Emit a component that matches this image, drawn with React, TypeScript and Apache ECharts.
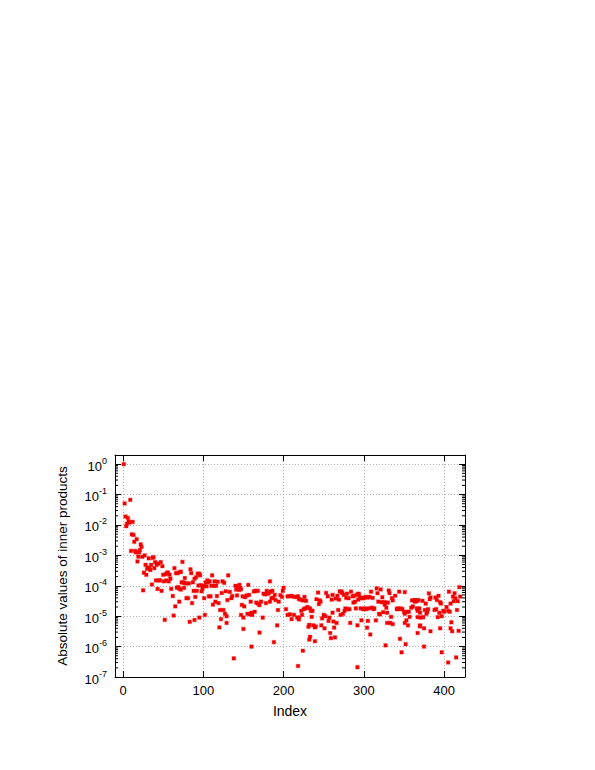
import { useEffect, useRef } from 'react';
import * as echarts from 'echarts';

const xTicks = [0, 100, 200, 300, 400];
const yTicks = [1e-7, 1e-6, 1e-5, 1e-4, 1e-3, 1e-2, 1e-1, 1];
const yMinorTicks = [
  2e-7, 3e-7, 4e-7, 5e-7, 6e-7, 7e-7, 8e-7, 9e-7,
  2e-6, 3e-6, 4e-6, 5e-6, 6e-6, 7e-6, 8e-6, 9e-6,
  2e-5, 3e-5, 4e-5, 5e-5, 6e-5, 7e-5, 8e-5, 9e-5,
  2e-4, 3e-4, 4e-4, 5e-4, 6e-4, 7e-4, 8e-4, 9e-4,
  2e-3, 3e-3, 4e-3, 5e-3, 6e-3, 7e-3, 8e-3, 9e-3,
  2e-2, 3e-2, 4e-2, 5e-2, 6e-2, 7e-2, 8e-2, 9e-2,
  2e-1, 3e-1, 4e-1, 5e-1, 6e-1, 7e-1, 8e-1, 9e-1,
];

// [index, |inner product|]
const segmentA: [number, number][] = [
  [1, 1.0], [2, 0.051], [9, 0.067], [3, 0.019], [6, 0.017], [7, 0.013], [4, 0.0091], [5, 0.011],
  [8, 0.012], [12, 0.0126], [11, 0.0049], [13, 0.0047], [17, 0.0034], [14, 0.0028], [22, 0.0023],
  [23, 0.0019], [10, 0.0014], [15, 0.0014], [16, 0.00126], [20, 0.00126], [21, 0.0015], [19, 0.00091],
  [27, 0.001], [18, 0.00063], [32, 0.0008], [37, 0.00083], [38, 0.00087], [28, 0.00049], [30, 0.00036],
  [31, 0.0004], [33, 0.00038], [35, 0.00049], [34, 0.00033], [39, 0.00038], [40, 0.0006], [42, 0.00049],
  [44, 0.00054], [47, 0.0006], [49, 0.00044], [26, 0.00027], [29, 0.00023], [53, 0.00024], [55, 0.00027],
  [56, 0.00027], [58, 0.00023], [50, 0.00023], [64, 0.00038], [66, 0.00026], [68, 0.00026], [36, 0.00011],
  [41, 0.00015], [45, 0.00015], [46, 0.00015], [51, 0.00014], [54, 0.00015], [59, 0.00017], [57, 0.00014],
  [43, 7.9e-5], [48, 6.8e-5], [60, 7.9e-5], [62, 4.6e-5], [67, 8.7e-5], [70, 3e-5], [65, 2.1e-5],
  [52, 7.6e-6], [63, 1.05e-5], [25, 7.1e-5], [24, 0.0009],
];

const segmentB: [number, number][] = [
  [74, 6.1e-4], [71, 2.8e-4], [72, 2.9e-4], [84, 3.5e-4], [85, 2.6e-4], [93, 2.5e-4], [95, 2.5e-4],
  [96, 2.2e-4], [91, 1.9e-4], [89, 1.7e-4], [77, 1.8e-4], [73, 1.3e-4], [75, 1.3e-4], [76, 1.25e-4],
  [78, 1.2e-4], [82, 1.2e-4], [87, 1.3e-4], [69, 9e-5], [70, 8e-5], [72, 7.5e-5], [76, 8.5e-5],
  [88, 6.8e-5], [94, 1.02e-4], [97, 1.05e-4], [100, 1.0e-4], [103, 1.3e-4], [105, 1.5e-4], [106, 1.3e-4],
  [108, 1.4e-4], [111, 2.2e-4], [114, 1.4e-4], [118, 1.35e-4], [124, 1.4e-4], [131, 2.2e-4], [126, 1.25e-4],
  [110, 1e-4], [113, 1e-4], [116, 1e-4], [104, 9.6e-5], [99, 8e-5], [98, 6.6e-5], [101, 3.9e-5],
  [92, 6.8e-5], [107, 4.5e-5], [109, 4.5e-5], [117, 4.6e-5], [123, 5.8e-5], [128, 6.6e-5], [133, 6.3e-5],
  [136, 4.6e-5], [135, 3.9e-5], [130, 3.4e-5], [140, 1e-4], [143, 8e-5], [141, 7.5e-5], [144, 9e-5],
  [115, 3e-5], [119, 2.7e-5], [112, 2.4e-5], [121, 1.6e-5], [125, 1.6e-5], [127, 1.2e-5], [129, 1e-5],
  [79, 3.9e-5], [81, 3.9e-5], [86, 2.7e-5], [90, 4.3e-5], [102, 1.1e-5], [95, 9e-6], [89, 7.5e-6],
  [83, 6.5e-6], [122, 8e-6], [129, 6e-6], [120, 4.3e-6], [138, 4.1e-7],
];

const segmentC: [number, number][] = [
  [145, 1.07e-4], [144, 9.5e-5], [146, 8.5e-5], [145, 7.3e-5], [147, 7.8e-5], [142, 4.8e-5],
  [156, 1.07e-4], [149, 4.5e-5], [152, 4.2e-5], [154, 4.8e-5], [157, 5e-5], [163, 6.5e-5], [165, 6.8e-5],
  [168, 6.8e-5], [183, 1.4e-4], [175, 5.5e-5], [177, 5.2e-5], [180, 5.5e-5], [182, 6e-5], [184, 6.4e-5],
  [186, 6.8e-5], [179, 6.8e-5], [181, 5.7e-5], [199, 6.8e-5], [200, 8.6e-5], [205, 4.5e-5], [208, 4.5e-5],
  [210, 4.7e-5], [213, 4.3e-5], [216, 4.3e-5], [219, 3.7e-5], [198, 4.3e-5], [189, 5e-5], [187, 4e-5],
  [148, 2.35e-5], [151, 2.1e-5], [159, 3e-5], [166, 2.8e-5], [168, 2.6e-5], [170, 2.3e-5],
  [158, 1.15e-5], [161, 1.1e-5], [160, 1.3e-5], [155, 1.2e-5], [147, 1.1e-5], [150, 9e-6], [164, 1.4e-5],
  [172, 3e-5], [174, 9e-6], [178, 2.7e-5], [183, 3e-5], [185, 3.9e-5], [190, 3.4e-5], [194, 3e-5],
  [196, 4.9e-5], [193, 1.6e-5], [203, 1.7e-5], [205, 1.1e-5], [208, 1.15e-5], [210, 8e-6], [213, 1.1e-5],
  [217, 9e-6], [219, 7.8e-6], [150, 3.8e-6], [170, 2.9e-6], [160, 1e-6], [188, 1.4e-6], [192, 5e-6],
  [218, 2.3e-7],
];

const segmentD: [number, number][] = [
  [218, 4.5e-5], [221, 3.5e-5], [224, 3.3e-5], [226, 4.3e-5], [228, 3.2e-5], [230, 2e-5], [233, 1.8e-5],
  [234, 1.5e-5], [236, 1.5e-5], [222, 1.5e-5], [225, 1.7e-5], [227, 1.8e-5], [219, 9e-6], [223, 1.1e-5],
  [229, 1.9e-5], [235, 9.5e-6], [231, 4.5e-6], [237, 5e-6], [239, 4.3e-6], [240, 4.6e-6], [232, 5.2e-6],
  [232, 1.7e-6], [233, 2.1e-6], [239, 1.5e-6], [224, 7.3e-7], [241, 3.6e-5], [244, 2.5e-5], [245, 3.3e-5],
  [246, 3e-5], [243, 6e-5], [253, 5.8e-5], [255, 4.5e-5], [250, 1.1e-5], [248, 8.5e-6], [252, 1e-5],
  [257, 9e-6], [256, 7e-6], [262, 6.7e-6], [247, 5e-6], [251, 4e-6], [263, 4.2e-6], [266, 6e-6],
  [258, 2.8e-6], [264, 2e-6], [259, 1.9e-6], [260, 3.5e-5], [261, 5e-5], [265, 3.8e-5], [267, 4.7e-5],
  [269, 3.5e-5], [270, 6.5e-5], [272, 6.5e-5], [273, 5.8e-5], [261, 1.3e-5], [268, 1.6e-5], [271, 1.1e-5],
  [274, 1.2e-5], [276, 1.5e-5], [277, 1.8e-5], [280, 1.7e-5], [282, 1.7e-5], [275, 5e-5], [278, 4e-5],
  [279, 5.5e-5], [281, 3.9e-5], [284, 6.4e-5], [286, 4.5e-5], [288, 4.7e-5], [291, 5e-5], [293, 3.5e-5],
  [294, 5.2e-5], [287, 2.8e-5], [290, 1.8e-5], [292, 5e-6], [289, 3e-5], [283, 6e-6], [292, 2.1e-7],
];

const segmentE: [number, number][] = [
  [293, 5.5e-5], [295, 4e-5], [297, 3.9e-5], [298, 4e-5], [300, 3.9e-5], [302, 4.3e-5], [305, 4.1e-5],
  [307, 4.3e-5], [309, 6.4e-5], [311, 4e-5], [316, 8.2e-5], [317, 5.7e-5], [321, 7.6e-5], [323, 4.2e-5],
  [325, 2.9e-5], [327, 2.8e-5], [331, 7e-5], [332, 5.7e-5], [335, 3.9e-5], [336, 3.3e-5], [339, 4.7e-5],
  [344, 6.4e-5], [296, 1.8e-5], [299, 1.7e-5], [301, 1.8e-5], [303, 1.7e-5], [306, 1.8e-5], [310, 1.9e-5],
  [313, 1.8e-5], [312, 1.7e-5], [318, 3e-5], [322, 2.9e-5], [326, 2.4e-5], [330, 2.8e-5], [328, 1.9e-5],
  [319, 1.2e-5], [320, 1.15e-5], [324, 1.35e-5], [329, 1.3e-5], [334, 9.5e-6], [297, 7.3e-6], [305, 7e-6],
  [315, 7.3e-6], [304, 4.2e-6], [308, 2.5e-6], [327, 1.1e-6], [333, 6e-6], [336, 5.5e-6], [329, 6e-6],
  [341, 1.7e-5], [342, 1.8e-5], [343, 1.7e-5], [346, 1.8e-5], [348, 1.7e-5], [350, 1.4e-5], [351, 1.2e-5],
  [354, 1.4e-5], [356, 1.4e-5], [357, 9.5e-6], [359, 1.9e-5], [361, 2.1e-5], [365, 3.3e-5], [363, 3.4e-5],
  [366, 1.8e-5], [369, 1.8e-5], [367, 1.5e-5], [370, 1.3e-5], [353, 7.3e-6], [355, 5e-6], [351, 6e-6],
  [345, 1.8e-6], [352, 1.2e-6], [347, 6.5e-7], [367, 2.8e-6], [370, 5e-6], [351, 6.2e-5], [360, 3.3e-5],
  [364, 3e-5],
];

const segmentF: [number, number][] = [
  [364, 3.2e-5], [366, 3.2e-5], [368, 3.4e-5], [373, 3.2e-5], [377, 2.6e-5], [380, 1.7e-5], [379, 1.4e-5],
  [378, 1.2e-5], [376, 1.6e-5], [381, 5.6e-5], [382, 3.6e-5], [383, 4.1e-5], [389, 4.1e-5], [391, 3.4e-5],
  [393, 4.7e-5], [395, 2.9e-5], [396, 2.6e-5], [388, 1.6e-5], [390, 1.7e-5], [392, 9.3e-6], [394, 1.3e-5],
  [397, 1e-5], [399, 1.5e-5], [400, 1.4e-5], [403, 2e-5], [405, 1.5e-5], [407, 1.4e-5], [406, 6.4e-5],
  [408, 2.6e-5], [411, 4.4e-5], [413, 5.7e-5], [414, 3.9e-5], [412, 3.1e-5], [416, 1.6e-5], [417, 3.1e-5],
  [419, 9e-5], [420, 4.4e-5], [409, 6.3e-6], [408, 4e-6], [418, 3.3e-6], [410, 3.2e-6], [395, 4e-6],
  [367, 9.3e-6], [370, 4.6e-6], [374, 9.3e-6], [375, 4e-6], [383, 3.2e-6], [371, 9e-6], [375, 1e-6],
  [397, 6.5e-7], [405, 3e-7], [415, 4.4e-7],
];

const FONT = 'Liberation Sans, Arial, sans-serif';

export default function App() {
  const ref = useRef<HTMLDivElement>(null);
  useEffect(() => {
    const chart = echarts.init(ref.current!, null, { renderer: 'svg' });
    const points = [...segmentA, ...segmentB, ...segmentC, ...segmentD, ...segmentE, ...segmentF];
    const gridLine = { show: true, lineStyle: { color: '#b0b0b0', width: 1, type: [1, 2] as any } };
    const border = { show: true, onZero: false, lineStyle: { color: '#000', width: 1 } };
    const majorTick = { show: true, inside: true, length: 6, lineStyle: { color: '#000', width: 1 } };
    chart.setOption({
      animation: false,
      backgroundColor: '#fff',
      textStyle: { fontFamily: FONT },
      grid: { left: 115, top: 455, width: 350, height: 222, containLabel: false },
      xAxis: [
        {
          type: 'value', min: -10, max: 426, position: 'bottom',
          axisLine: border,
          axisTick: { ...majorTick, customValues: xTicks },
          axisLabel: { customValues: xTicks, fontSize: 13, color: '#000', margin: 7, fontFamily: FONT },
          splitLine: gridLine,
          name: 'Index', nameLocation: 'middle', nameGap: 27,
          nameTextStyle: { fontSize: 14, color: '#000', fontFamily: FONT },
        },
        {
          type: 'value', min: -10, max: 426, position: 'top',
          axisLine: border,
          axisTick: { ...majorTick, customValues: xTicks },
          axisLabel: { show: false },
          splitLine: { show: false },
        },
      ],
      yAxis: [
        {
          type: 'log', logBase: 10, min: 1e-7, max: 2, position: 'left',
          axisLine: border,
          axisTick: { ...majorTick, customValues: yTicks },
          axisLabel: {
            customValues: yTicks, margin: 8, color: '#000',
            formatter: (v: number) => `{b|10}{s|${Math.round(Math.log10(v))}}`,
            rich: {
              b: { fontSize: 13, lineHeight: 16, padding: [4, 0, 0, 0], fontFamily: FONT, color: '#000' },
              s: { fontSize: 9, lineHeight: 11, verticalAlign: 'top', fontFamily: FONT, color: '#000' },
            },
          },
          splitLine: gridLine,
          name: 'Absolute values of inner products', nameLocation: 'middle', nameGap: 46,
          nameTextStyle: { fontSize: 13.5, color: '#000', fontFamily: FONT },
        },
        {
          type: 'log', logBase: 10, min: 1e-7, max: 2, position: 'right',
          axisLine: border,
          axisTick: { ...majorTick, customValues: yTicks },
          axisLabel: { show: false },
          splitLine: { show: false },
        },
      ],
      series: [
        {
          type: 'scatter',
          data: points,
          symbol: 'rect',
          symbolSize: 3.5,
          itemStyle: { color: '#ee0000', borderColor: 'rgba(255,0,0,0.3)', borderWidth: 1.2, opacity: 1 },
          z: 3,
        },
        {
          type: 'custom',
          silent: true,
          data: yMinorTicks.map((v) => [0, v]),
          renderItem: (params: any, api: any) => {
            const y = api.coord([0, api.value(1)])[1];
            const cs = params.coordSys;
            return {
              type: 'group',
              children: [
                { type: 'line', shape: { x1: cs.x, y1: y, x2: cs.x + 3, y2: y }, style: { stroke: '#000', lineWidth: 1 } },
                { type: 'line', shape: { x1: cs.x + cs.width - 3, y1: y, x2: cs.x + cs.width, y2: y }, style: { stroke: '#000', lineWidth: 1 } },
              ],
            };
          },
          z: 4,
        },
      ],
    });
    return () => chart.dispose();
  }, []);
  return <div ref={ref} style={{ position: 'absolute', left: 0, top: 0, width: 595, height: 770 }} />;
}
